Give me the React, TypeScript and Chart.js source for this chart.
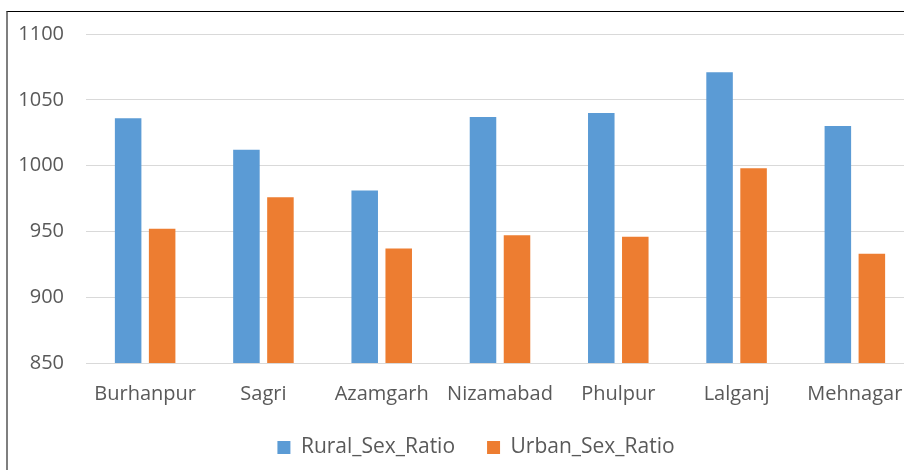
import React, { useEffect, useRef } from "react";
import { Chart, registerables } from "chart.js";

Chart.register(...registerables);

const categories = ["Burhanpur", "Sagri", "Azamgarh", "Nizamabad", "Phulpur", "Lalganj", "Mehnagar"];
const ruralSexRatio = [1036, 1012, 981, 1037, 1040, 1071, 1030];
const urbanSexRatio = [952, 976, 937, 947, 946, 998, 933];
const yMin = 850;
const yMax = 1100;
const yStep = 50;

const FONT = "'Open Sans', sans-serif";
const TEXT = "#595959";

const legendShift = {
  id: "legendShift",
  afterLayout(chart: any) {
    if (chart.legend) {
      chart.legend.left += 21;
    }
  },
};

export default function App() {
  const ref = useRef<HTMLCanvasElement | null>(null);

  useEffect(() => {
    if (!ref.current) return;
    const chart = new Chart(ref.current, {
      type: "bar",
      data: {
        labels: categories,
        datasets: [
          {
            label: "Rural_Sex_Ratio",
            data: ruralSexRatio,
            backgroundColor: "#5B9BD5",
            borderWidth: 0,
          },
          {
            label: "Urban_Sex_Ratio",
            data: urbanSexRatio,
            backgroundColor: "#ED7D31",
            borderWidth: 0,
          },
        ],
      },
      options: {
        responsive: false,
        animation: false,
        layout: { padding: { left: 9, right: 30, top: 22, bottom: 2 } },
        scales: {
          x: {
            grid: { display: false },
            border: { display: false },
            ticks: {
              color: TEXT,
              font: { family: FONT, size: 20 },
              padding: 11,
              maxRotation: 0,
              autoSkip: false,
            },
            afterFit: (scale: any) => {
              scale.height = scale.height - 12;
              scale.paddingLeft = 0;
              scale.paddingRight = 0;
            },
          },
          y: {
            min: yMin,
            max: yMax,
            grid: { color: "#d9d9d9", lineWidth: 1, drawTicks: false },
            border: { display: false },
            ticks: {
              stepSize: yStep,
              color: TEXT,
              font: { family: FONT, size: 20 },
              padding: 22,
              callback: (v: any) => String(v),
            },
            afterFit: (scale: any) => {
              scale.width = 69;
              scale.paddingTop = 0;
              scale.paddingBottom = 0;
            },
          },
        },
        datasets: {
          bar: { categoryPercentage: 0.575, barPercentage: 0.78 },
        },
        plugins: {
          tooltip: { enabled: false },
          legend: {
            position: "bottom",
            labels: {
              color: TEXT,
              font: { family: FONT, size: 21 },
              boxWidth: 13,
              boxHeight: 13,
              padding: 32,
            },
          },
        },
      },
      plugins: [legendShift],
    });
    return () => chart.destroy();
  }, []);

  return (
    <div
      style={{
        position: "fixed",
        left: 0,
        top: 0,
        width: 904,
        height: 470,
        overflow: "hidden",
        background: "#fff",
      }}
    >
      <div
        style={{
          position: "absolute",
          left: 6,
          top: 11,
          width: 1000,
          height: 600,
          borderTop: "1px solid #000",
          borderLeft: "2px solid #7f7f7f",
        }}
      />
      <canvas
        ref={ref}
        width={936}
        height={458}
        style={{ position: "absolute", left: 8, top: 12, width: 936, height: 458 }}
      />
    </div>
  );
}
